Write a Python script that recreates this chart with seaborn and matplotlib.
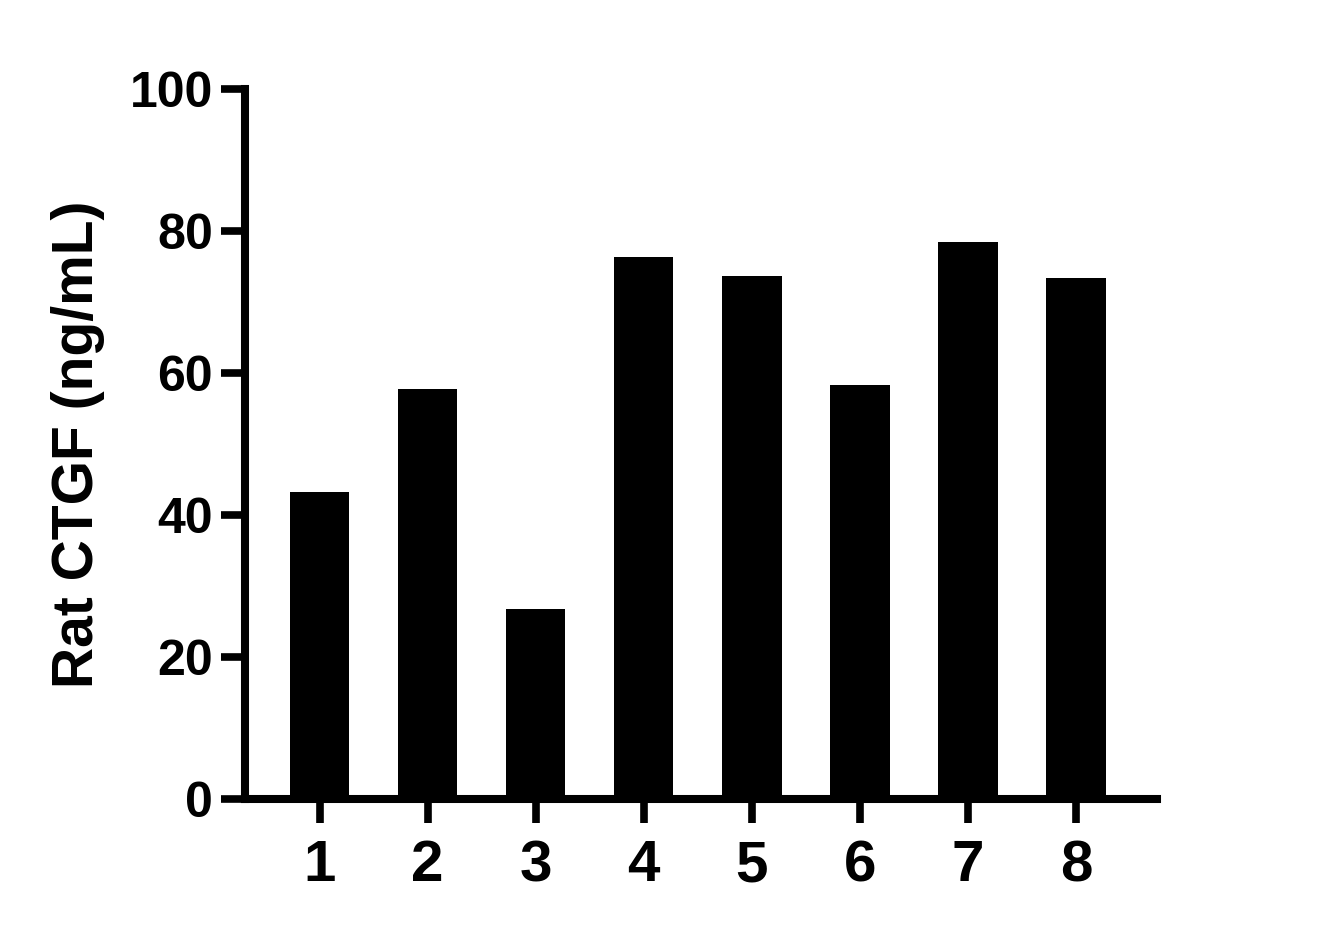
import matplotlib
matplotlib.use("Agg")
import matplotlib.pyplot as plt
import seaborn as sns
import pandas as pd

# datos
samples = ["1", "2", "3", "4", "5", "6", "7", "8"]
ctgf = [43.3, 57.8, 26.7, 76.4, 73.6, 58.3, 78.5, 73.4]
y_ticks = [0, 20, 40, 60, 80, 100]

df = pd.DataFrame({"sample": samples, "ctgf": ctgf})

sns.set_style("ticks")
plt.rcParams["font.family"] = ["Liberation Sans", "DejaVu Sans"]
plt.rcParams["font.weight"] = "bold"
plt.rcParams["text.color"] = "black"
plt.rcParams["axes.labelcolor"] = "black"
plt.rcParams["xtick.color"] = "black"
plt.rcParams["ytick.color"] = "black"

fig = plt.figure(figsize=(13.35, 9.39), dpi=100)
ax = fig.add_axes([0.1835, 0.1491, 0.6832, 0.7561])

sns.barplot(data=df, x="sample", y="ctgf", color="black", width=0.55,
            saturation=1, ax=ax, edgecolor="black", linewidth=0)

ax.set_xlim(-0.69, 7.75)
ax.set_ylim(0, 100)
ax.set_yticks(y_ticks)
ax.set_yticklabels([str(t) for t in y_ticks], fontsize=36, fontweight="bold",
                   color="black")
ax.set_xticks(range(len(samples)))
ax.set_xticklabels(samples, fontsize=42, fontweight="bold", color="black")
ax.set_xlabel("")
ax.set_ylabel("Rat CTGF (ng/mL)", fontsize=41, fontweight="bold",
              color="black", labelpad=18)

for side in ["top", "right"]:
    ax.spines[side].set_visible(False)
for side in ["left", "bottom"]:
    ax.spines[side].set_linewidth(5.8)
    ax.spines[side].set_color("black")
    ax.spines[side].set_capstyle("projecting")

ax.tick_params(axis="both", direction="out", length=17, width=5.5,
               color="black", labelcolor="black")
ax.tick_params(axis="y", pad=6)
ax.tick_params(axis="x", pad=12)

fig.savefig("out.png", dpi=100)
plt.close(fig)
